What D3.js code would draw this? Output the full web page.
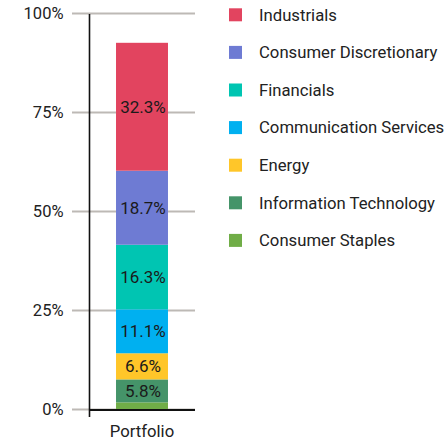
<!DOCTYPE html>
<html><head><meta charset="utf-8">
<script src="https://cdn.jsdelivr.net/npm/d3@7"></script>
<style>body{margin:0;background:#fff;} text{font-family:Roboto,"Noto Sans",sans-serif;}</style>
</head><body>
<svg id="c" width="448" height="440"></svg>
<script>
const categories = ["Portfolio"];
const sectors = ["Industrials","Consumer Discretionary","Financials","Communication Services","Energy","Information Technology","Consumer Staples"];
const values = [32.3, 18.7, 16.3, 11.1, 6.6, 5.8, 1.8];
const labels = ["32.3%","18.7%","16.3%","11.1%","6.6%","5.8%",""];
const colors = ["#E2445F","#6E7BD3","#00C5B2","#00B0F0","#FFC629","#459469","#70AD47"];
const yTicks = [0, 25, 50, 75, 100];
const yTickLabels = ["0%","25%","50%","75%","100%"];

const svg = d3.select("#c");
const y = d3.scaleLinear().domain([0,100]).range([409.5,13.5]);
const x = d3.scaleBand().domain(categories).range([89,195]).paddingInner(0.5).paddingOuter(0.26);

// gridlines
svg.append("g").selectAll("line").data(yTicks).join("line")
  .attr("x1",72).attr("x2",195).attr("y1",d=>y(d)).attr("y2",d=>y(d))
  .attr("stroke","#bdb9b5").attr("stroke-width",2);

// y tick labels
svg.append("g").selectAll("text").data(yTicks).join("text")
  .attr("x",63.5).attr("y",d=>y(d)).attr("dy","0.35em").attr("text-anchor","end")
  .attr("font-size",16.5).attr("fill","#222").text((d,i)=>yTickLabels[i]);

// stack (bottom = last sector)
let cum = 0;
const segs = [];
for (let i = sectors.length-1; i >= 0; i--) {
  segs.push({name:sectors[i], v:values[i], y0:cum, y1:cum+values[i], c:colors[i], l:labels[i]});
  cum += values[i];
}
const g = svg.append("g");
g.selectAll("rect").data(segs).join("rect")
  .attr("x",x("Portfolio")).attr("width",x.bandwidth())
  .attr("y",d=>y(d.y1)).attr("height",d=>y(d.y0)-y(d.y1))
  .attr("fill",d=>d.c);
g.selectAll("text").data(segs).join("text")
  .attr("x",x("Portfolio")+x.bandwidth()/2+1).attr("y",d=>(y(d.y0)+y(d.y1))/2)
  .attr("dy","0.35em").attr("text-anchor","middle").attr("font-size",17).attr("fill","#1a1a1a")
  .text(d=>d.l);

// axes lines
svg.append("line").attr("x1",89.5).attr("x2",89.5).attr("y1",14).attr("y2",417).attr("stroke","#111").attr("stroke-width",1.6);
svg.append("line").attr("x1",89).attr("x2",195).attr("y1",410).attr("y2",410).attr("stroke","#111").attr("stroke-width",2);

// x tick label
svg.append("text").attr("x",x("Portfolio")+x.bandwidth()/2).attr("y",431).attr("dy","0.35em")
  .attr("text-anchor","middle").attr("font-size",16.7).attr("fill","#222").text(categories[0]);

// legend
const leg = svg.append("g").selectAll("g").data(sectors).join("g")
  .attr("transform",(d,i)=>`translate(229,${14.8+i*37.6})`);
leg.append("rect").attr("x",0).attr("y",-6.5).attr("width",13).attr("height",13).attr("fill",(d,i)=>colors[i]);
leg.append("text").attr("x",30).attr("y",0).attr("dy","0.35em").attr("font-size",16.7).attr("fill","#222").text(d=>d);
</script>
</body></html>
